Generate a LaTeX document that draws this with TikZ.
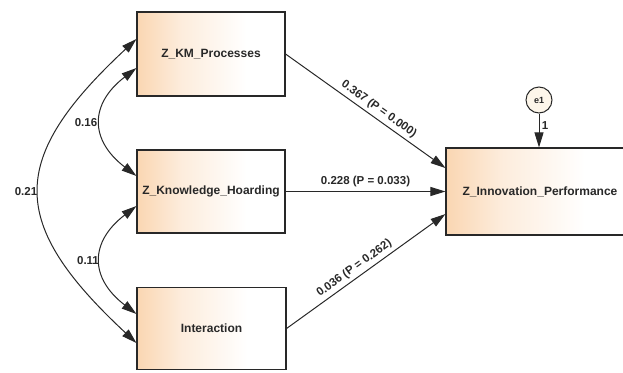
\documentclass[tikz,border=0pt]{standalone}
\usepackage{fontspec}
\setmainfont{Liberation Sans}
\usetikzlibrary{arrows.meta}
\definecolor{peach}{RGB}{250,214,178}
\definecolor{ink}{RGB}{40,40,40}
\pgfdeclarehorizontalshading{peachfade}{100bp}{color(0bp)=(peach); color(25bp)=(peach); color(40bp)=(peach!45); color(62bp)=(white); color(100bp)=(white)}
\begin{document}
\begin{tikzpicture}[x=1pt,y=1pt,
  varbox/.style={draw=ink, line width=1.1pt, rectangle, inner sep=0pt,
    shading=peachfade,
    font=\fontsize{12}{14}\selectfont\bfseries, text=ink},
  tip/.style={-{Triangle[length=15pt,width=9pt]}},
  dtip/.style={{Triangle[length=15pt,width=9pt]}-{Triangle[length=15pt,width=9pt]}},
  conn/.style={draw=ink, line width=1pt},
  lbl/.style={font=\fontsize{11.5}{13}\selectfont\bfseries, text=ink}
]
\useasboundingbox (0,0) rectangle (623,-372);
\node[varbox, minimum width=148, minimum height=84] (km) at (211,-54) {Z\_KM\_Processes};
\node[varbox, minimum width=148, minimum height=83] (kh) at (211,-191.5) {Z\_Knowledge\_Hoarding};
\node[varbox, minimum width=149, minimum height=82] (in) at (211.5,-328.5) {Interaction};
\node[varbox, minimum width=188, minimum height=87] (ip) at (540,-191.5) {Z\_Innovation\_Performance};
\node[draw=ink, line width=1pt, circle, fill={rgb,255:red,253;green,246;blue,234}, minimum size=26, inner sep=0pt,
  font=\fontsize{9}{10}\selectfont\bfseries, text=ink] (e1) at (539,-100) {e1};

\draw[conn, tip] (km.east) -- node[lbl, sloped, above, pos=0.55] {0.367 (P = 0.000)} ([yshift=23.5]ip.west);
\draw[conn, tip] (kh.east) -- node[lbl, above, pos=0.5, yshift=1] {0.228 (P = 0.033)} (ip.west);
\draw[conn, tip] (in.east) -- node[lbl, sloped, above, pos=0.46] {0.036 (P = 0.262)} ([yshift=-22.5]ip.west);
\draw[conn, tip] (e1.south) -- node[lbl, right, pos=0.35, xshift=-1] {1} (e1.south |- ip.north);

\draw[conn, dtip] ([yshift=15]km.west) .. controls +(-129,-120) and +(-129,120) .. ([yshift=-14.5]in.west);
\draw[conn, dtip] ([yshift=-14]km.west) .. controls +(-47,-36) and +(-47,36) .. ([yshift=15.5]kh.west);
\draw[conn, dtip] ([yshift=-14.5]kh.west) .. controls +(-47,-36) and +(-47,36) .. ([yshift=14.5]in.west);

\node[lbl] (l21) at (26,-192) {0.21};
\node[lbl] (l16) at (86,-123) {0.16};
\node[lbl] (l11) at (88,-261) {0.11};
\end{tikzpicture}
\end{document}
